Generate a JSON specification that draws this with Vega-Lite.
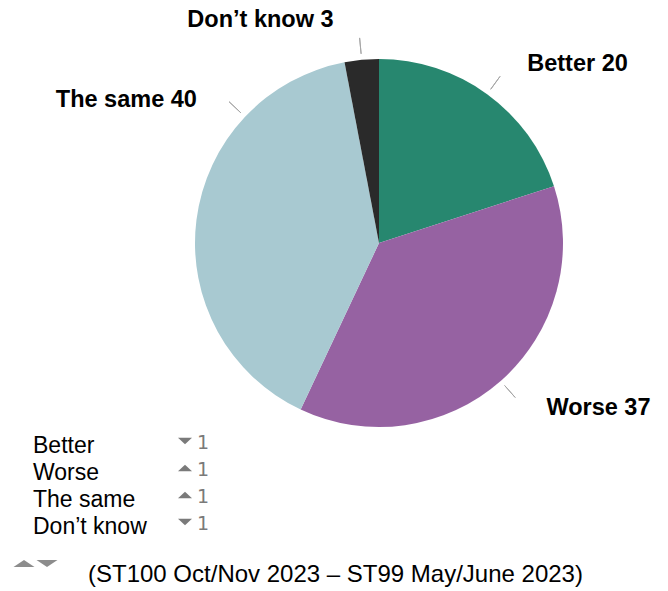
{
  "$schema": "https://vega.github.io/schema/vega-lite/v6.json",
  "width": 668,
  "height": 591,
  "autosize": {"type": "none"},
  "padding": 0,
  "background": "white",
  "config": {"view": {"stroke": null}, "text": {"font": "Liberation Sans"}},
  "data": {
    "values": [
      {"category": "Better", "value": 20, "change": -1, "order": 1},
      {"category": "Worse", "value": 37, "change": 1, "order": 2},
      {"category": "The same", "value": 40, "change": 1, "order": 3},
      {"category": "Don’t know", "value": 3, "change": -1, "order": 4}
    ]
  },
  "transform": [
    {"stack": "value", "groupby": [], "sort": [{"field": "order", "order": "ascending"}], "as": ["v0", "v1"]},
    {"calculate": "(datum.v0 + datum.v1) / 2", "as": "mid"},
    {"calculate": "datum.category + ' ' + datum.value", "as": "label"},
    {"calculate": "datum.change < 0 ? 'down' : 'up'", "as": "dir"},
    {"calculate": "'' + abs(datum.change)", "as": "delta"}
  ],
  "layer": [
    {
      "mark": {"type": "arc", "x": 379, "y": 243, "radius": 184},
      "encoding": {
        "theta": {"field": "v0", "type": "quantitative", "stack": null, "scale": {"domain": [0, 100]}},
        "theta2": {"field": "v1"},
        "color": {
          "field": "category", "type": "nominal",
          "scale": {"domain": ["Better", "Worse", "The same", "Don’t know"], "range": ["#27876f", "#9662a2", "#a8c9d1", "#2a2a2a"]},
          "legend": null
        }
      }
    },
    {
      "transform": [{"filter": "datum.category !== 'The same'"}],
      "mark": {"type": "arc", "x": 379, "y": 243, "radius": 206, "radius2": 190, "filled": false, "stroke": "#a6a6a6", "strokeWidth": 1},
      "encoding": {
        "theta": {"field": "mid", "type": "quantitative", "stack": null},
        "theta2": {"field": "mid"}
      }
    },
    {
      "transform": [{"filter": "datum.category === 'The same'"}],
      "mark": {"type": "arc", "x": 379, "y": 243, "radius": 206, "radius2": 190, "thetaOffset": 0.63, "theta2Offset": 0.63, "filled": false, "stroke": "#a6a6a6", "strokeWidth": 1},
      "encoding": {
        "theta": {"field": "mid", "type": "quantitative", "stack": null},
        "theta2": {"field": "mid"}
      }
    },
    {
      "transform": [{"filter": "datum.category === 'Better'"}],
      "mark": {"type": "text", "x": 379, "y": 243, "radius": 213, "align": "left", "baseline": "alphabetic", "dx": 23, "fontSize": 23.5, "fontWeight": "bold", "color": "#000000"},
      "encoding": {
        "theta": {"field": "mid", "type": "quantitative", "stack": null},
        "text": {"field": "label"}
      }
    },
    {
      "transform": [{"filter": "datum.category === 'Worse'"}],
      "mark": {"type": "text", "x": 379, "y": 243, "radius": 229, "align": "left", "baseline": "alphabetic", "dx": 16, "fontSize": 23.5, "fontWeight": "bold", "color": "#000000"},
      "encoding": {
        "theta": {"field": "mid", "type": "quantitative", "stack": null},
        "text": {"field": "label"}
      }
    },
    {
      "transform": [{"filter": "datum.category === 'The same'"}],
      "mark": {"type": "text", "x": 379, "y": 243, "radius": 198, "thetaOffset": 0.63, "align": "right", "baseline": "alphabetic", "dx": -38, "fontSize": 23.5, "fontWeight": "bold", "color": "#000000"},
      "encoding": {
        "theta": {"field": "mid", "type": "quantitative", "stack": null},
        "text": {"field": "label"}
      }
    },
    {
      "transform": [{"filter": "datum.category === 'Don’t know'"}],
      "mark": {"type": "text", "x": 379, "y": 243, "radius": 217, "align": "right", "baseline": "alphabetic", "dx": -25, "fontSize": 23.5, "fontWeight": "bold", "color": "#000000"},
      "encoding": {
        "theta": {"field": "mid", "type": "quantitative", "stack": null},
        "text": {"field": "label"}
      }
    },
    {
      "mark": {"type": "text", "x": 33, "align": "left", "baseline": "alphabetic", "fontSize": 23, "color": "#000000"},
      "encoding": {
        "y": {"field": "category", "type": "ordinal", "axis": null, "sort": ["Better", "Worse", "The same", "Don’t know"], "scale": {"type": "point", "domain": ["Better", "Worse", "The same", "Don’t know"], "range": [453, 534], "padding": 0}},
        "text": {"field": "category"}
      }
    },
    {
      "mark": {"type": "text", "x": 197, "align": "left", "baseline": "alphabetic", "dy": -4.5, "font": "DejaVu Sans", "fontSize": 19, "color": "#7a7a7a"},
      "encoding": {
        "y": {"field": "category", "type": "ordinal", "axis": null},
        "text": {"field": "delta"}
      }
    },
    {
      "mark": {"type": "point", "x": 185, "yOffset": -12, "filled": true, "opacity": 1, "size": 196, "color": "#7a7a7a", "strokeWidth": 0},
      "encoding": {
        "y": {"field": "category", "type": "ordinal", "axis": null},
        "shape": {"field": "dir", "type": "nominal", "legend": null, "scale": {"domain": ["down", "up"], "range": ["M-1,-0.45L1,-0.45L0,0.45Z", "M-1,0.45L1,0.45L0,-0.45Z"]}}
      }
    },
    {
      "data": {"values": [{"note": "(ST100 Oct/Nov 2023 – ST99 May/June 2023)"}]},
      "mark": {"type": "text", "x": 88, "y": 582, "align": "left", "baseline": "alphabetic", "fontSize": 24, "color": "#000000"},
      "encoding": {"text": {"field": "note"}}
    },
    {
      "data": {"values": [{"sym": "up"}]},
      "mark": {"type": "point", "x": 24, "y": 563.5, "shape": "M-1,0.33L1,0.33L0,-0.33Z", "size": 441, "filled": true, "opacity": 1, "color": "#8c8c8c", "strokeWidth": 0},
      "encoding": {}
    },
    {
      "data": {"values": [{"sym": "down"}]},
      "mark": {"type": "point", "x": 47, "y": 563.5, "shape": "M-1,-0.33L1,-0.33L0,0.33Z", "size": 441, "filled": true, "opacity": 1, "color": "#8c8c8c", "strokeWidth": 0},
      "encoding": {}
    }
  ]
}
